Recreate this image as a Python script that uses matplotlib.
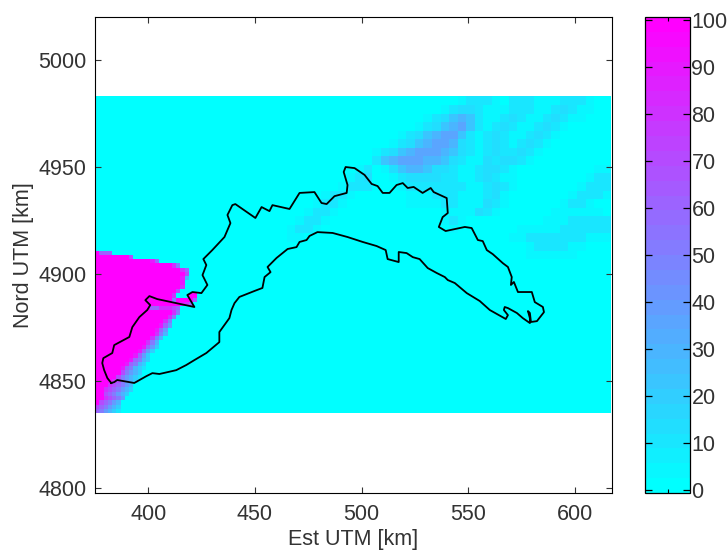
import numpy as np
import matplotlib
matplotlib.use("Agg")
import matplotlib.pyplot as plt

plt.rcParams['font.family'] = ['Liberation Sans', 'DejaVu Sans']

# grid of the field, 2 km cells
x_edges = np.arange(375, 618, 2)
y_edges = np.arange(4983, 4834, -2)

# west wedge, one string per 2 km row, X = 100, digit = tens
west_rows = [
    "X666",
    "X"*8 + "7",
    "X"*13 + "96",
    "X"*18 + "85",
    "X"*20 + "86",
    "X"*21 + "7",
    "X"*20 + "93",
    "X"*20 + "9",
    "X"*20 + "8",
    "X"*19 + "7",
    "X"*18 + "8000XX",
    "X"*18 + "5" + "X"*4 + "6",
    "X"*20 + "986",
    "X"*13 + "6688876",
    "X"*18 + "85",
    "X"*17 + "85",
    "X"*16 + "85",
    "X"*15 + "964",
    "X"*14 + "964",
    "X"*14 + "853",
    "X"*13 + "853",
    "X"*12 + "853",
    "X"*11 + "9642",
    "X"*10 + "9642",
    "X"*9 + "9642",
    "X"*8 + "96532",
    "X"*7 + "96532",
    "X"*6 + "965321",
    "X"*6 + "75432",
    "X"*5 + "754321",
    "X"*4 + "875432",
    "X"*3 + "876543",
    "X"*2 + "8765432",
    "X"*2 + "765432",
    "X"*2 + "87654",
    "X76543",
    "765432",
    "654321",
]

# north east plume, 4 km blocks from x = 465, each digit is an index in plume_levels
plume_levels = [0, 5, 10, 15, 22, 28, 35]
plume_rows = [
    "0000000000" + "0000000000122210222111222100",
    "0000000000" + "0000000012332111222112321100",
    "0000000000" + "0000001234542112321123211000",
    "0000000000" + "0000012345642123211232100000",
    "0000000000" + "0001234566421232112321000000",
    "0000000000" + "0012345665321232123210000000",
    "0000000000" + "1234566654321232232100000000",
    "0000000000" + "2456665543211323321000000000",
    "0000000012" + "0134554332112332100000000011",
    "0000000123" + "0012333322112321100000000122",
    "0000001222" + "0001222222211232100000001222",
    "0000122100" + "0000111222111231000000012221",
    "0001221000" + "0000111122111321000000122100",
    "0012210000" + "0000000011113210000001111110",
    "0122100000" + "0000000012100000000011122222",
    "1221000000" + "0000000001000000011111222222",
    "1100000000" + "0000000000000000112222222111",
    "0000000000" + "0000000000000000001222211000",
    "0000000000" + "0000000000000000001111110000",
]

coast_x = [382.6, 380.8, 379.3, 378.4, 378.9, 383.1, 384.0, 391.1, 392.5, 395.8, 399.5, 400.9, 398.6, 400.5,
           404.2, 421.6, 418.3, 420.7, 424.9, 427.7, 425.4, 427.2, 425.8, 430.0, 435.7, 438.5, 437.1, 439.4,
           440.8, 450.2, 453.1, 456.8, 458.2, 466.2, 470.9, 477.9, 481.2, 483.6, 487.3, 493.0, 493.4, 491.6,
           492.5, 496.7, 501.4, 504.7, 507.5, 509.9, 513.1, 516.4, 519.3, 521.6, 524.4, 528.6, 532.4, 533.8,
           539.9, 540.4, 538.0, 536.2, 539.4, 548.4, 551.6, 554.5, 556.8, 558.7, 561.5, 566.2, 568.6, 570.4,
           570.0, 571.4, 573.3, 579.8, 581.2, 585.0, 585.5, 582.2, 579.4, 578.9, 578.0, 578.9, 578.9, 575.6,
           572.8, 568.6, 567.1, 566.7, 568.6, 567.6, 560.1, 555.4, 549.3, 543.7, 540.4, 539.0, 535.2, 531.0,
           527.2, 524.0, 521.1, 517.4, 517.4, 512.2, 511.3, 507.0, 500.5, 497.7, 493.4, 486.4, 479.3, 475.6,
           474.2, 470.9, 469.5, 465.3, 460.1, 455.9, 457.3, 454.5, 453.5, 449.8, 442.7, 440.4, 439.0, 438.0,
           433.3, 433.3, 427.2, 421.6, 417.8, 413.1, 405.2, 401.9, 399.1, 393.4, 385.4, 384.0, 382.6]
coast_y = [4849.1, 4851.4, 4855.1, 4858.4, 4860.7, 4863.1, 4866.8, 4870.6, 4875.2, 4879.9, 4883.2, 4885.5, 4887.8, 4889.7,
           4888.3, 4884.6, 4890.2, 4891.6, 4891.1, 4894.9, 4899.5, 4904.2, 4907.0, 4911.2, 4917.3, 4923.8, 4927.6, 4932.2,
           4932.7, 4926.2, 4931.3, 4929.4, 4932.2, 4930.4, 4937.9, 4938.3, 4933.2, 4932.7, 4936.4, 4937.9, 4941.6, 4947.7,
           4950.0, 4949.5, 4946.3, 4942.1, 4941.1, 4937.9, 4937.9, 4941.6, 4942.5, 4940.2, 4940.7, 4937.9, 4940.2, 4938.3,
           4935.5, 4928.5, 4926.6, 4922.0, 4920.1, 4922.0, 4921.5, 4915.9, 4915.4, 4911.2, 4909.3, 4905.1, 4903.3, 4898.6,
           4894.9, 4896.3, 4891.6, 4891.6, 4886.9, 4884.6, 4882.2, 4878.0, 4877.6, 4881.8, 4882.7, 4879.4, 4877.1, 4879.4,
           4881.8, 4884.1, 4884.6, 4883.2, 4880.8, 4879.0, 4883.2, 4887.4, 4891.1, 4895.8, 4897.2, 4898.6, 4900.5, 4902.8,
           4907.0, 4907.9, 4909.8, 4910.3, 4905.6, 4907.0, 4911.2, 4913.1, 4915.0, 4915.9, 4917.3, 4919.2, 4919.6, 4917.8,
           4915.9, 4915.0, 4912.6, 4911.7, 4907.5, 4903.3, 4900.9, 4898.6, 4893.5, 4892.1, 4889.3, 4886.4, 4883.2, 4879.4,
           4872.9, 4868.2, 4863.1, 4859.8, 4857.5, 4855.1, 4853.3, 4853.7, 4852.3, 4849.1, 4850.5, 4849.5, 4849.1]

x_ticks = [400, 450, 500, 550, 600]
y_ticks = [4800, 4850, 4900, 4950, 5000]
bar_ticks = list(range(0, 101, 10))

# put the strings into the grid
field = np.zeros((len(y_edges) - 1, len(x_edges) - 1))
for i, row in enumerate(plume_rows):
    vals = np.array([plume_levels[int(c)] for c in row], dtype=float)
    vals = np.repeat(vals, 2)
    field[2*i:2*i+2, 45:45+len(vals)] = vals
for i, row in enumerate(west_rows):
    for j, c in enumerate(row):
        field[36 + i, j] = 100 if c == "X" else int(c) * 10

W, H = 727, 550
fig = plt.figure(figsize=(W/100, H/100), dpi=100)
ax = fig.add_axes([95/W, 1 - 493/H, (612 - 95)/W, (493 - 17)/H])
cax = fig.add_axes([645/W, 1 - 493/H, 45/W, (493 - 17)/H])

cmap = plt.get_cmap('cool', 32)
mesh = ax.pcolormesh(x_edges, y_edges, field, cmap=cmap, vmin=-0.6, vmax=100.6, linewidth=0, rasterized=True)
ax.plot(coast_x, coast_y, color='black', linewidth=1.3)

ax.set_xlim(375, 617.4)
ax.set_ylim(4797.7, 5020.1)
ax.set_xticks(x_ticks)
ax.set_yticks(y_ticks)
ax.tick_params(direction='in', top=True, right=True, length=4, width=0.8, labelsize=15.5, colors='#333333')
ax.tick_params(axis='x', pad=8)
ax.tick_params(axis='y', pad=6)
ax.set_xlabel("Est UTM [km]", fontsize=15.5, color='#333333', labelpad=3)
ax.set_ylabel("Nord UTM [km]", fontsize=15.5, color='#333333', labelpad=3)

cb = fig.colorbar(mesh, cax=cax)
cb.set_ticks(bar_ticks)
cb.outline.set_linewidth(0.9)
cax.tick_params(axis='y', direction='in', left=True, right=True, length=5, width=0.9, labelsize=15.5,
                labelcolor='#333333', pad=1)
cax.xaxis.set_ticks([0.5])
cax.tick_params(axis='x', direction='in', top=True, bottom=True, length=3, width=0.8, labelbottom=False)

fig.savefig("out.png", dpi=100)
